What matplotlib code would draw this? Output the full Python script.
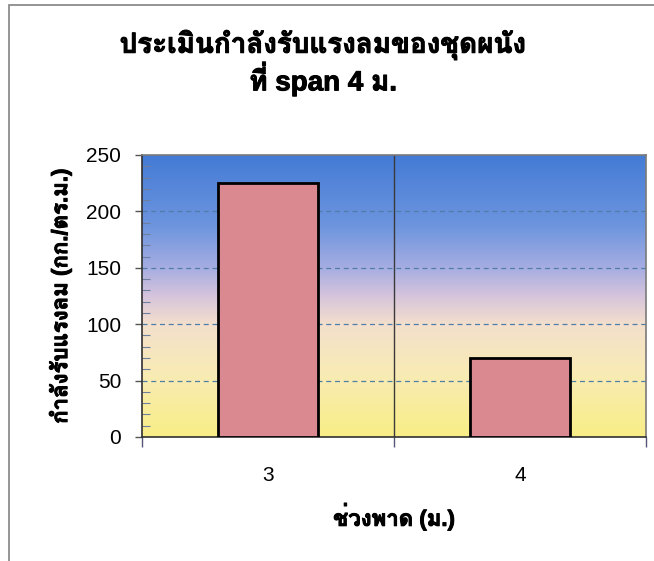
import numpy as np
import matplotlib
matplotlib.use("Agg")
import matplotlib.pyplot as plt
import matplotlib.patheffects as pe
from matplotlib import font_manager
from matplotlib.ft2font import FT2Font
from matplotlib.colors import LinearSegmentedColormap
from matplotlib.patches import Rectangle

# data
spans = ["3", "4"]
capacity = [225, 70]          # กก./ตร.ม.

title = "ประเมินกำลังรับแรงลมของชุดผนัง\nที่ span 4 ม."
xlabel = "ช่วงพาด (ม.)"
ylabel = "กำลังรับแรงลม (กก./ตร.ม.)"


def thai_family():
    """installed family with Thai glyphs, a bold one if there is one"""
    found = {}
    for f in font_manager.fontManager.ttflist:
        try:
            if 0x0E01 not in FT2Font(f.fname).get_charmap():
                continue
        except Exception:
            continue
        w = f.weight
        if isinstance(w, str):
            w = font_manager.weight_dict.get(w, 400)
        found.setdefault(f.name, []).append(w)
    if not found:
        return "DejaVu Sans"
    for name, weights in found.items():
        if max(weights) >= 700:
            return name
    return next(iter(found))


fams = ["Liberation Sans", thai_family(), "DejaVu Sans"]
plt.rcParams['font.family'] = fams

# heavier strokes for the bold Thai captions
heavy = [pe.withStroke(linewidth=0.7, foreground="black")]

fig = plt.figure(figsize=(6.54, 5.61), dpi=100)
ax = fig.add_axes([142/654, 1-437/561, 504/654, 282/561])

# sky-like background of the plot area
bg = LinearSegmentedColormap.from_list("bg", [
    (0.00, "#f8ee86"), (0.22, "#f9ebb4"), (0.40, "#f3dfcc"),
    (0.50, "#d6c4dc"), (0.60, "#a6ade2"), (0.75, "#6d95de"),
    (1.00, "#447bd6")])
grad = np.linspace(0, 1, 256).reshape(-1, 1)
ax.imshow(grad, extent=[0, 1, 0, 1], transform=ax.transAxes,
          aspect='auto', cmap=bg, origin='lower', zorder=0)

x = np.arange(len(spans))
ax.bar(x, capacity, width=0.4, color="#db8990", edgecolor="black",
       linewidth=2, zorder=3)

ax.set_xlim(-0.5, len(spans) - 0.5)
ax.set_ylim(0, 250)

# gridlines
for v in [50, 100, 150, 200]:
    ax.axhline(v, color="#4f7fa8", lw=0.9, ls=(0, (4, 3)), zorder=1)
ax.axvline(0.5, color="#3a3a3a", lw=1.0, zorder=1)

# ticks
ax.set_yticks(np.arange(0, 251, 50))
ax.set_yticks(np.arange(0, 251, 10), minor=True)
ax.tick_params(axis='y', which='major', direction='out', length=5,
               width=1, color="#555555", labelsize=15, pad=10)
ax.tick_params(axis='y', which='minor', direction='in', length=6,
               width=0.8, color="#6f7fa0")
ax.set_xticks([-0.5, 0.5, 1.5])
ax.set_xticklabels([])
ax.set_xticks(x, minor=True)
ax.set_xticklabels(spans, minor=True)
ax.tick_params(axis='x', which='major', direction='out', length=7,
               width=1, color="#555577")
ax.tick_params(axis='x', which='minor', length=0, labelsize=15, pad=21)

for s in ['top', 'right']:
    ax.spines[s].set_color("#7a7a7a")
    ax.spines[s].set_linewidth(1.2)
for s in ['bottom', 'left']:
    ax.spines[s].set_color("#303030")
    ax.spines[s].set_linewidth(1.2)

ax.set_xlabel(xlabel, fontsize=16, fontweight='bold', labelpad=12,
              path_effects=heavy)
ax.set_ylabel(ylabel, fontsize=16, fontweight='bold', labelpad=10,
              path_effects=heavy)

fig.text(323/654, 1-29/561, title, ha='center', va='top', fontsize=20,
         fontweight='bold', linespacing=1.05, path_effects=heavy)

# chart frame
fig.add_artist(Rectangle((9/654, -0.02), 1.1, 1.02-5/561,
                         transform=fig.transFigure, fill=False,
                         edgecolor="#8c8c8c", lw=1.3))

plt.savefig("out.png", dpi=100)
